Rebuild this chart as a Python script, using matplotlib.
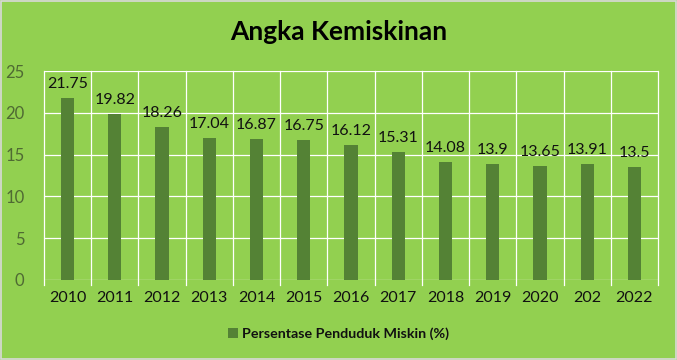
import matplotlib
matplotlib.use("Agg")
import matplotlib.pyplot as plt
import numpy as np

years = ["2010", "2011", "2012", "2013", "2014", "2015", "2016", "2017",
         "2018", "2019", "2020", "202", "2022"]
values = [21.75, 19.82, 18.26, 17.04, 16.87, 16.75, 16.12, 15.31,
          14.08, 13.9, 13.65, 13.91, 13.5]
value_labels = ["21.75", "19.82", "18.26", "17.04", "16.87", "16.75", "16.12",
                "15.31", "14.08", "13.9", "13.65", "13.91", "13.5"]
yticks = [0, 5, 10, 15, 20, 25]

plt.rcParams['font.family'] = ['Lato', 'DejaVu Sans']

bg = '#92D050'
bar_color = '#548235'

fig = plt.figure(figsize=(6.77, 3.6), dpi=100, facecolor=bg)
ax = fig.add_axes([44/677, 1 - 280/360, (658-44)/677, (280-71)/360])
ax.set_facecolor(bg)

x = np.arange(len(years))
bars = ax.bar(x, values, width=0.28, color=bar_color, zorder=3,
              label='Persentase Penduduk Miskin (%)')
for xi, v, lab in zip(x, values, value_labels):
    ax.annotate(lab, (xi, v), xytext=(0, 5), textcoords='offset points',
                ha='center', va='bottom', fontsize=11.5, color='#111111')

ax.set_xlim(-0.5, len(years) - 0.5)
ax.set_ylim(0, 25)
ax.set_yticks(yticks)
ax.set_yticklabels([str(t) for t in yticks], fontsize=12, color='#4f6a33')
ax.set_xticks(x)
ax.set_xticklabels(years, fontsize=11.5, color='#111111')
ax.tick_params(axis='y', length=0, pad=14)
ax.tick_params(axis='x', length=0, pad=8)

# gridlines
for t in yticks:
    ax.axhline(t, color='white', lw=0.9, zorder=1)
for b in np.arange(-0.5, len(years), 1.0):
    ax.plot([b, b], [-0.55, 25], color='white', lw=0.9, zorder=1, clip_on=False)
for s in ax.spines.values():
    s.set_visible(False)

fig.text(0.5, 1 - 32/360, 'Angka Kemiskinan', ha='center', va='center',
         fontsize=19, fontweight='bold', color='black')

leg = fig.legend(handles=[bars], labels=['Persentase Penduduk Miskin (%)'],
                 loc='center', bbox_to_anchor=(0.5, 1 - 334/360), frameon=False,
                 fontsize=10.3, handlelength=0.7, handleheight=0.7, handletextpad=0.3)
for t in leg.get_texts():
    t.set_fontweight('bold')
    t.set_color('#111111')

# outer border
fig.patches.append(plt.Rectangle((0.002, 0.003), 0.996, 0.994, transform=fig.transFigure,
                                 fill=False, edgecolor='#d9d9d9', lw=1.2))

fig.savefig('out.png', dpi=100, facecolor=bg)
